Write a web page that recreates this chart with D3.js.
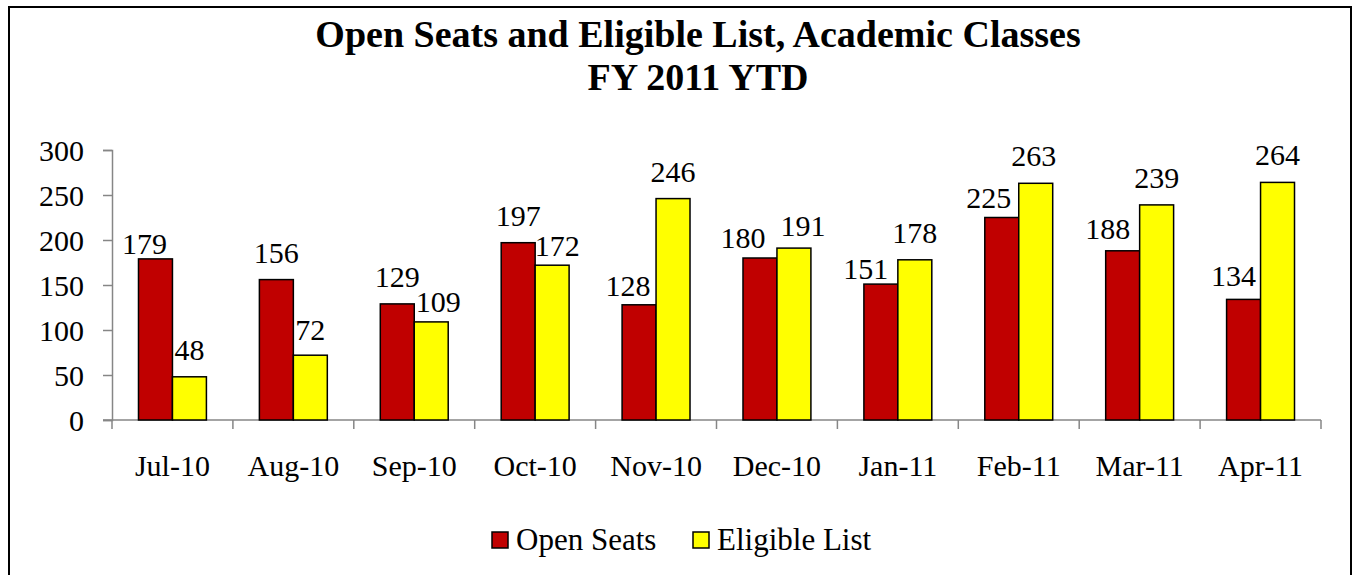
<!DOCTYPE html>
<html>
<head>
<meta charset="utf-8">
<script src="https://cdn.jsdelivr.net/npm/d3@7"></script>
<style>
	body { margin: 0; background: #fff; }
	svg text { font-family: "Liberation Serif", "Times New Roman", serif; fill: #000; }
</style>
</head>
<body>
<div id="chart-div"></div>
<script>

const months = ["Jul-10", "Aug-10", "Sep-10", "Oct-10", "Nov-10", "Dec-10", "Jan-11", "Feb-11", "Mar-11", "Apr-11"];
const openSeats = [179, 156, 129, 197, 128, 180, 151, 225, 188, 134];
const eligibleList = [48, 72, 109, 172, 246, 191, 178, 263, 239, 264];
const yTicks = [0, 50, 100, 150, 200, 250, 300];
const seriesNames = ["Open Seats", "Eligible List"];
const seriesColors = ["#C00000", "#FFFF00"];

// hand-moved data labels in the original (dx, dy from the default spot)
const openNudge = [[-11, 12], [0, 0], [0, 0], [0, 0], [-11, 8], [-17, 7], [-15, 12], [-13, 7], [-15, 5], [-10, 4]];
const eligNudge = [[0, 0], [0, 2], [7, 7], [5, 8], [0, 0], [9, 5], [0, 0], [-2, 0], [0, 0], [0, 0]];

const width = 1355, height = 575;
const plotLeft = 112, plotRight = 1321, plotTop = 150, plotBottom = 420;

let svg = d3.select("#chart-div")
			.append("svg")
			.attr("width", width)
			.attr("height", height);

svg.append("rect")
	.attr("x", 9)
	.attr("y", 7)
	.attr("width", 1342)
	.attr("height", 600)
	.attr("fill", "#fff")
	.attr("stroke", "#000")
	.attr("stroke-width", 2);

// title
const title = svg.append("text")
	.attr("text-anchor", "middle")
	.style("font-size", "38px")
	.style("font-weight", "bold");
title.append("tspan").attr("x", 698).attr("y", 47).text("Open Seats and Eligible List, Academic Classes");
title.append("tspan").attr("x", 698).attr("y", 90).text("FY 2011 YTD");

const yScale = d3.scaleLinear()
				.domain([0, 300])
				.range([plotBottom, plotTop]);

const xScale = d3.scaleBand()
				.domain(months)
				.range([plotLeft, plotRight]);

const inner = d3.scaleBand()
				.domain([0, 1])
				.range([0, xScale.bandwidth()])
				.paddingOuter(0.78);

// y axis
const yAxis = d3.axisLeft(yScale).tickValues(yTicks).tickSize(9).tickPadding(19);
let yg = svg.append("g")
	.attr("transform", `translate(${plotLeft},0)`)
	.call(yAxis);
yg.select(".domain").attr("stroke", "#868686").attr("stroke-width", 1.5);
yg.selectAll(".tick line").attr("stroke", "#868686").attr("stroke-width", 1.5);
yg.selectAll(".tick text").style("font-size", "30px").attr("dy", "0.34em");

// x axis, ticks between categories
const xAxis = d3.axisBottom(xScale).tickSize(0).tickPadding(45);
let xg = svg.append("g")
	.attr("transform", `translate(0,${plotBottom})`)
	.call(xAxis);
xg.select(".domain").remove();
xg.selectAll(".tick text").style("font-size", "30px").attr("dy", "0.35em");
xg.append("line")
	.attr("x1", plotLeft - 9).attr("x2", plotRight)
	.attr("stroke", "#868686").attr("stroke-width", 1.5);
xg.selectAll(".sep")
	.data(months.concat(["end"]))
	.enter()
	.append("line")
	.attr("x1", (d, i) => plotLeft + i * xScale.step())
	.attr("x2", (d, i) => plotLeft + i * xScale.step())
	.attr("y1", 0).attr("y2", 9)
	.attr("stroke", "#868686").attr("stroke-width", 1.5);

// bars
const series = [openSeats, eligibleList];
const nudges = [openNudge, eligNudge];

series.forEach((vals, s) => {
	let g = svg.append("g");
	g.selectAll("rect")
		.data(vals)
		.enter()
		.append("rect")
		.attr("x", (d, i) => xScale(months[i]) + inner(s))
		.attr("y", (d) => yScale(d))
		.attr("width", inner.bandwidth())
		.attr("height", (d) => plotBottom - yScale(d))
		.attr("fill", seriesColors[s])
		.attr("stroke", "#000")
		.attr("stroke-width", 1.5);

	g.selectAll("text")
		.data(vals)
		.enter()
		.append("text")
		.attr("x", (d, i) => xScale(months[i]) + inner(s) + inner.bandwidth() / 2 + nudges[s][i][0])
		.attr("y", (d, i) => yScale(d) - 17 + nudges[s][i][1])
		.attr("text-anchor", "middle")
		.style("font-size", "30px")
		.text((d) => d);
});

// legend
const legendX = [492, 693];
let lg = svg.append("g");
seriesNames.forEach((name, s) => {
	lg.append("rect")
		.attr("x", legendX[s])
		.attr("y", 532)
		.attr("width", 16)
		.attr("height", 16)
		.attr("fill", seriesColors[s])
		.attr("stroke", "#000")
		.attr("stroke-width", 1.5);
	lg.append("text")
		.attr("x", legendX[s] + 24)
		.attr("y", 550)
		.style("font-size", "31px")
		.text(name);
});
</script>
</body>
</html>
